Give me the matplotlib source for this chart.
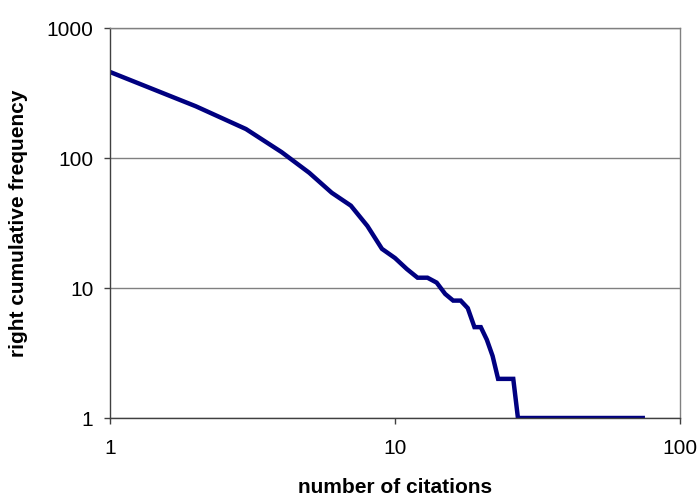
import matplotlib
matplotlib.use("Agg")
import matplotlib.pyplot as plt
from matplotlib.ticker import FixedLocator, FixedFormatter, NullLocator

plt.rcParams['font.family'] = ['Liberation Sans', 'DejaVu Sans']

citations = [1, 2, 3, 4, 5, 6, 7, 8, 9, 10, 11, 12, 13, 14, 15, 16, 17, 18, 19,
             20, 21, 22, 23, 24, 25, 26, 27, 74]
frequency = [459, 250, 167, 111, 77, 54, 43, 30, 20, 17, 14, 12, 12, 11, 9, 8, 8, 7, 5,
             5, 4, 3, 2, 2, 2, 2, 1, 1]

x_ticks = [1, 10, 100]
x_labels = ["1", "10", "100"]
y_ticks = [1, 10, 100, 1000]
y_labels = ["1", "10", "100", "1000"]

fig = plt.figure(figsize=(6.99, 4.97), dpi=100)
ax = fig.add_axes([110/699, 79/497, 570/699, 390/497])

ax.plot(citations, frequency, color='#000080', linewidth=3.2, solid_joinstyle='miter')
ax.set_xscale('log')
ax.set_yscale('log')
ax.set_xlim(1, 100)
ax.set_ylim(1, 1000)

ax.xaxis.set_major_locator(FixedLocator(x_ticks))
ax.xaxis.set_major_formatter(FixedFormatter(x_labels))
ax.xaxis.set_minor_locator(NullLocator())
ax.yaxis.set_major_locator(FixedLocator(y_ticks))
ax.yaxis.set_major_formatter(FixedFormatter(y_labels))
ax.yaxis.set_minor_locator(NullLocator())

ax.grid(axis='y', color='#808080', linewidth=1.0)
ax.set_axisbelow(True)

for s in ['top', 'right']:
    ax.spines[s].set_color('#808080')
    ax.spines[s].set_linewidth(1.0)
for s in ['left', 'bottom']:
    ax.spines[s].set_color('#404040')
    ax.spines[s].set_linewidth(1.0)

ax.tick_params(axis='x', direction='out', length=4, width=1, color='#404040',
               labelsize=15, pad=11)
ax.tick_params(axis='y', direction='out', length=4, width=1, color='#404040',
               labelsize=15, pad=8)

ax.set_xlabel('number of citations', fontsize=15, fontweight='bold', labelpad=14.5)
ax.set_ylabel('right cumulative frequency', fontsize=15, fontweight='bold', labelpad=13)

fig.savefig('out.png', dpi=100, facecolor='white')
